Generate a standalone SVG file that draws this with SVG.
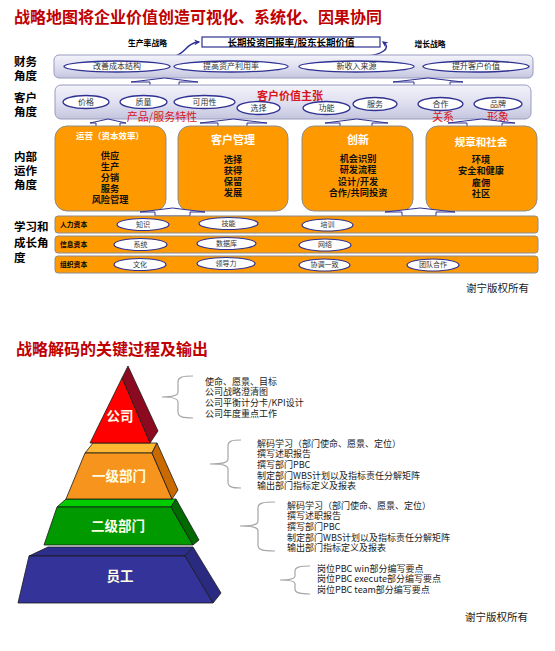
<svg xmlns="http://www.w3.org/2000/svg" width="555" height="651" viewBox="0 0 555 651">
<defs>
<linearGradient id="lav" x1="0" y1="0" x2="0" y2="1">
<stop offset="0" stop-color="#f3f3fb"/><stop offset="0.6" stop-color="#dcdcee"/><stop offset="1" stop-color="#c4c4de"/>
</linearGradient>
<marker id="ah" viewBox="0 0 10 10" refX="8" refY="5" markerWidth="4" markerHeight="4" orient="auto">
<path d="M0,0 L10,5 L0,10 L3,5 Z" fill="#2e3192"/>
</marker>
<style>
text{font-family:"Noto Sans CJK SC","Noto Sans",sans-serif}
.ttl{font-size:16px;font-weight:bold;fill:#c00000}
.ax{font-size:11.5px;font-weight:bold;fill:#000}
.band{fill:url(#lav);stroke:#9a9ac0;stroke-width:1}
.ell{fill:#fff;stroke:#2e3192;stroke-width:1.3}
.et{font-size:8px;fill:#333;text-anchor:middle}
.blk{fill:#fff;stroke:#2e3192;stroke-width:1}
.box{fill:#ff9900;stroke:#8c8c8c;stroke-width:1}
.bh{fill:#fff;font-weight:bold;text-anchor:middle}
.bc{font-size:9.2px;font-weight:bold;fill:#111;text-anchor:middle}
.row{fill:#ff9900;stroke:#8c8c8c;stroke-width:1}
.rl{font-size:6.8px;font-weight:bold;fill:#000}
.le{fill:#fff;stroke:#2e3192;stroke-width:1.2}
.lt{font-size:7px;fill:#333;text-anchor:middle}
.red{fill:#d9141e;text-anchor:middle}
.br{fill:none;stroke:#a6a6a6;stroke-width:1.2}
.bt{font-size:9px;fill:#1a1a1a}
.pt{font-size:13.5px;font-weight:bold;fill:#fffde6;text-anchor:middle}
.pe{stroke:#1a1a1a;stroke-width:0.8;stroke-linejoin:round}
.lbl{font-size:7.8px;font-weight:bold;fill:#000;text-anchor:middle}
</style>
</defs>
<rect width="555" height="651" fill="#fff"/>

<text class="ttl" x="14" y="23">战略地图将企业价值创造可视化、系统化、因果协同</text>

<g id="axis-labels">
<text class="ax" x="14" y="66">财务<tspan x="14" dy="14">角度</tspan></text>
<text class="ax" x="14" y="102">客户<tspan x="14" dy="14">角度</tspan></text>
<text class="ax" x="14" y="161">内部<tspan x="14" dy="14">运作</tspan><tspan x="14" dy="14">角度</tspan></text>
<text class="ax" x="14" y="231">学习和<tspan x="14" dy="16">成长角</tspan><tspan x="14" dy="15">度</tspan></text>
</g>

<g id="goal">
<rect x="202" y="37" width="178" height="10" fill="#fff" stroke="#2e3192" stroke-width="1.2"/>
<text x="291" y="45.8" style="font-size:9.5px;font-weight:bold;fill:#000;text-anchor:middle">长期投资回报率/股东长期价值</text>
</g>
<text class="lbl" x="147.5" y="46">生产率战略</text>
<text class="lbl" x="430" y="47">增长战略</text>

<g id="connectors">
<path d="M175,56 C186,53 186,43 199,42" fill="none" stroke="#2e3192" stroke-width="1.5" marker-end="url(#ah)"/>
<path d="M367,56 C379,55 393,49 383,42" fill="none" stroke="#2e3192" stroke-width="1.5" marker-end="url(#ah)"/>
</g>

<g id="finance">
<rect class="band" x="54" y="55" width="479" height="23" rx="5"/>
<ellipse class="ell" cx="117" cy="66.5" rx="53" ry="5.5"/><text class="et" x="117" y="69.3">改善成本结构</text>
<ellipse class="ell" cx="231" cy="66.5" rx="57" ry="5.5"/><text class="et" x="231" y="69.3">提高资产利用率</text>
<ellipse class="ell" cx="356.5" cy="66.5" rx="57.5" ry="5.5"/><text class="et" x="356.5" y="69.3">新收入来源</text>
<ellipse class="ell" cx="476" cy="66.5" rx="53" ry="5.5"/><text class="et" x="476" y="69.3">提升客户价值</text>
</g>

<g id="arrows-fc">
<polygon class="blk" points="131,82 164.5,78 198,82 179,82 179,86 150,86 150,82"/>
<polygon class="blk" points="393,82 428,78 463,82 450,82 450,86 414,86 414,82"/>
</g>

<g id="customer">
<rect class="band" x="55" y="85" width="476" height="34" rx="6"/>
<ellipse class="ell" cx="86" cy="102" rx="23" ry="6.5"/><text class="et" x="86" y="105">价格</text>
<ellipse class="ell" cx="143.5" cy="102" rx="23.5" ry="6.5"/><text class="et" x="143.5" y="105">质量</text>
<ellipse class="ell" cx="204.5" cy="102" rx="30.5" ry="6.5"/><text class="et" x="204.5" y="105">可用性</text>
<ellipse class="ell" cx="258.5" cy="108" rx="21.5" ry="6.5"/><text class="et" x="258.5" y="111">选择</text>
<ellipse class="ell" cx="326.5" cy="108" rx="23.5" ry="6.5"/><text class="et" x="326.5" y="111">功能</text>
<ellipse class="ell" cx="375" cy="104" rx="22" ry="6.5"/><text class="et" x="375" y="107">服务</text>
<ellipse class="ell" cx="440.5" cy="104" rx="22.5" ry="6.5"/><text class="et" x="440.5" y="107">合作</text>
<ellipse class="ell" cx="498" cy="104" rx="24" ry="6.5"/><text class="et" x="498" y="107">品牌</text>
<text class="red" x="290" y="99.5" style="font-size:11px;font-weight:bold">客户价值主张</text>
<text class="red" x="162" y="121" style="font-size:11px">产品/服务特性</text>
<text class="red" x="443" y="121" style="font-size:11px">关系</text>
<text class="red" x="498" y="121" style="font-size:11px">形象</text>
</g>

<g id="arrows-ci">
<polygon class="blk" points="90,123 108,119 126,123 120,123 120,127 96,127 96,123"/>
<polygon class="blk" points="200,123 233.5,119 267,123 247,123 247,127 218,127 218,123"/>
<polygon class="blk" points="325,123 356.5,119 388,123 372,123 372,127 340,127 340,123"/>
<polygon class="blk" points="448,123 481.5,119 515,123 502,123 502,127 467,127 467,123"/>
</g>

<g id="ops">
<rect class="box" x="55" y="126" width="111" height="85" rx="12"/>
<text class="bh" x="110" y="139" style="font-size:8.5px">运营（资本效率）</text>
<text class="bc" x="110" y="158.5">供应<tspan x="110" dy="11">生产</tspan><tspan x="110" dy="11">分销</tspan><tspan x="110" dy="11">服务</tspan><tspan x="110" dy="11.5">风险管理</tspan></text>
</g>
<g id="cust-mgmt">
<rect class="box" x="178" y="126" width="110" height="85" rx="12"/>
<text class="bh" x="233" y="144" style="font-size:11px">客户管理</text>
<text class="bc" x="233" y="162.5">选择<tspan x="233" dy="11.3">获得</tspan><tspan x="233" dy="11.2">保留</tspan><tspan x="233" dy="11">发展</tspan></text>
</g>
<g id="innovation">
<rect class="box" x="302" y="126" width="111" height="85" rx="12"/>
<text class="bh" x="358" y="144" style="font-size:11px">创新</text>
<text class="bc" x="358" y="161.5">机会识别<tspan x="358" dy="11.5">研发流程</tspan><tspan x="358" dy="12">设计/开发</tspan><tspan x="358" dy="11">合作/共同投资</tspan></text>
</g>
<g id="regulatory">
<rect class="box" x="426" y="126" width="111" height="85" rx="12"/>
<text class="bh" x="481" y="145.5" style="font-size:10.5px">规章和社会</text>
<text class="bc" x="481" y="162.5">环境<tspan x="481" dy="11.5">安全和健康</tspan><tspan x="481" dy="11.5">雇佣</tspan><tspan x="481" dy="11">社区</tspan></text>
</g>

<g id="arrows-il">
<polygon class="blk" points="140,212 172.5,208 205,212 190,212 190,216 155,216 155,212"/>
<polygon class="blk" points="385,212 420,208 455,212 436,212 436,216 402,216 402,212"/>
</g>

<g id="human">
<rect class="row" x="55" y="216" width="483" height="17" rx="3"/>
<text class="rl" x="60" y="227">人力资本</text>
<ellipse class="le" cx="143" cy="224.5" rx="26" ry="6"/><text class="lt" x="143" y="226.5">知识</text>
<ellipse class="le" cx="228.5" cy="223.5" rx="29.5" ry="6"/><text class="lt" x="228.5" y="225.5">技能</text>
<ellipse class="le" cx="327.5" cy="225" rx="25.5" ry="6"/><text class="lt" x="327.5" y="227">培训</text>
</g>
<g id="info">
<rect class="row" x="55" y="236" width="483" height="17" rx="3"/>
<text class="rl" x="60" y="247">信息资本</text>
<ellipse class="le" cx="140.5" cy="244.5" rx="26.5" ry="6"/><text class="lt" x="140.5" y="246.5">系统</text>
<ellipse class="le" cx="226.5" cy="243.5" rx="29.5" ry="6"/><text class="lt" x="226.5" y="245.5">数据库</text>
<ellipse class="le" cx="325" cy="245" rx="26" ry="6"/><text class="lt" x="325" y="247">网络</text>
</g>
<g id="org">
<rect class="row" x="55" y="256" width="483" height="17" rx="3"/>
<text class="rl" x="60" y="267">组织资本</text>
<ellipse class="le" cx="140" cy="264.5" rx="26" ry="6"/><text class="lt" x="140" y="266.5">文化</text>
<ellipse class="le" cx="226" cy="263.5" rx="29" ry="6"/><text class="lt" x="226" y="265.5">领导力</text>
<ellipse class="le" cx="324.5" cy="265" rx="25.5" ry="6"/><text class="lt" x="324.5" y="267">协调一致</text>
<ellipse class="le" cx="433" cy="265" rx="26" ry="6"/><text class="lt" x="433" y="267">团队合作</text>
</g>

<text x="466" y="292" style="font-size:10.5px;fill:#222">谢宁版权所有</text>

<text class="ttl" x="16" y="355">战略解码的关键过程及输出</text>

<g id="tier-staff">
<polygon class="pe" points="48,547 193,547 185,556 29,556" fill="#2d2d8c"/>
<polygon class="pe" points="29,556 185,556 213,603 18,603" fill="#333399"/>
<polygon class="pe" points="185,556 193,547 221,593 213,603" fill="#2a2a80"/>
<text class="pt" x="120" y="581">员工</text>
</g>
<g id="tier-l2">
<polygon class="pe" points="66,499 176,499 171,507 57,507" fill="#00cc00"/>
<polygon class="pe" points="57,507 171,507 193,545 44,545" fill="#009900"/>
<polygon class="pe" points="171,507 176,499 199,540 193,545" fill="#006a00"/>
<text class="pt" x="118" y="531">二级部门</text>
</g>
<g id="tier-l1">
<polygon class="pe" points="93,443 157,443 152,453 85,453" fill="#ffb833"/>
<polygon class="pe" points="85,453 152,453 172,499 66,499" fill="#f7941d"/>
<polygon class="pe" points="152,453 157,443 178,490 172,499" fill="#c86a00"/>
<text class="pt" x="119" y="481">一级部门</text>
</g>
<g id="tier-company">
<polygon class="pe" points="122,378 128,366 158,431 150,443" fill="#8b0a1f"/>
<polygon class="pe" points="122,378 90,443 150,443" fill="#ff0000"/>
<text class="pt" x="120" y="421">公司</text>
</g>

<g id="brace-company">
<path class="br" d="M193,376 C183,376 178,377 178,382 L178,392 C178,396 172,397 162,397 C172,397 178,398 178,402 L178,412 C178,417 183,418 193,418"/>
<text class="bt" x="205" y="384.5">使命、愿景、目标<tspan x="205" dy="10.7">公司战略澄清图</tspan><tspan x="205" dy="10.7">公司平衡计分卡/KPI设计</tspan><tspan x="205" dy="10.7">公司年度重点工作</tspan></text>
</g>
<g id="brace-l1">
<path class="br" d="M241,440 C232,440 228,441 228,446 L228,459 C228,463 222,464 210,464 C222,464 228,465 228,469 L228,482 C228,487 232,488 241,488"/>
<text class="bt" x="257" y="446.5">解码学习（部门使命、愿景、定位）<tspan x="257" dy="10.7">撰写述职报告</tspan><tspan x="257" dy="10.7">撰写部门PBC</tspan><tspan x="257" dy="10.7">制定部门WBS计划以及指标责任分解矩阵</tspan><tspan x="257" dy="10.7">输出部门指标定义及报表</tspan></text>
</g>
<g id="brace-l2">
<path class="br" d="M275,502 C263,502 258,503 258,508 L258,521 C258,525 252,526 240,526 C252,526 258,527 258,531 L258,545 C258,550 263,551 275,551"/>
<text class="bt" x="287" y="508.5">解码学习（部门使命、愿景、定位）<tspan x="287" dy="10.7">撰写述职报告</tspan><tspan x="287" dy="10.7">撰写部门PBC</tspan><tspan x="287" dy="10.7">制定部门WBS计划以及指标责任分解矩阵</tspan><tspan x="287" dy="10.7">输出部门指标定义及报表</tspan></text>
</g>
<g id="brace-staff">
<path class="br" d="M310,566 C300,566 295,567 295,571 L295,576 C295,579 290,580 280,580 C290,580 295,581 295,584 L295,589 C295,593 300,594 310,594"/>
<text class="bt" x="317" y="571.5">岗位PBC win部分编写要点<tspan x="317" dy="10.7">岗位PBC execute部分编写要点</tspan><tspan x="317" dy="10.7">岗位PBC team部分编写要点</tspan></text>
</g>

<text x="465" y="621" style="font-size:10.5px;fill:#222">谢宁版权所有</text>
</svg>
